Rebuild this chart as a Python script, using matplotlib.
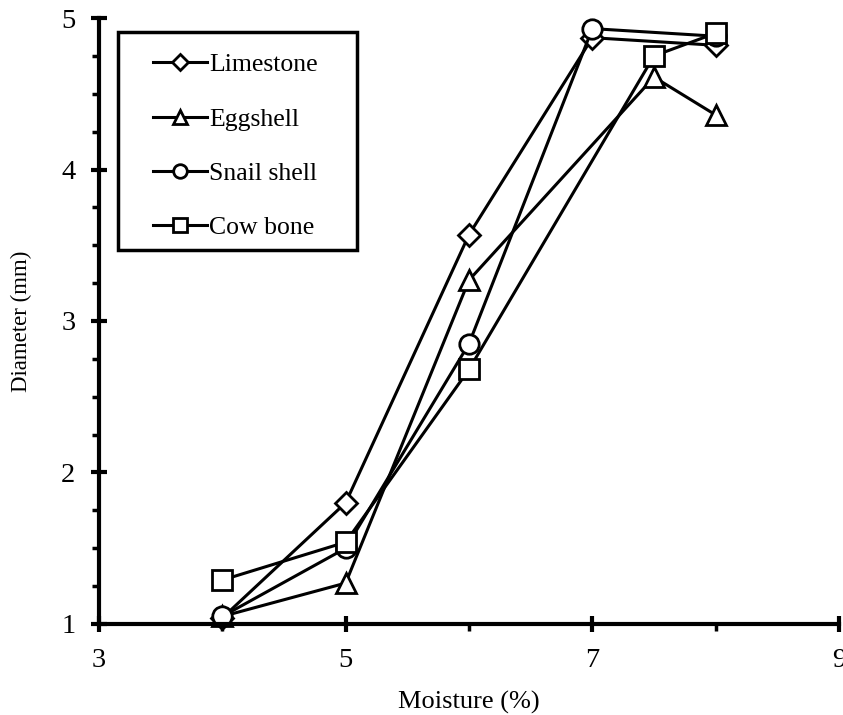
import matplotlib
matplotlib.use("Agg")
import matplotlib.pyplot as plt
from matplotlib.patches import Rectangle
from matplotlib.ticker import FixedLocator, MultipleLocator

plt.rcParams['font.family'] = ['Liberation Serif', 'DejaVu Serif']

# values
limestone_x = [4, 5, 6, 7, 8]
limestone_y = [1.04, 1.80, 3.57, 4.87, 4.82]
eggshell_x = [4, 5, 6, 7.5, 8]
eggshell_y = [1.05, 1.27, 3.27, 4.61, 4.36]
snail_x = [4, 5, 6, 7, 8]
snail_y = [1.05, 1.50, 2.85, 4.93, 4.88]
cowbone_x = [4, 5, 6, 7.5, 8]
cowbone_y = [1.29, 1.54, 2.68, 4.75, 4.90]

x_major = [3, 5, 7, 9]
x_minor = [4, 6, 8]

series = [
    ("Limestone", limestone_x, limestone_y, "D", 11),
    ("Eggshell", eggshell_x, eggshell_y, "^", 15),
    ("Snail shell", snail_x, snail_y, "o", 14),
    ("Cow bone", cowbone_x, cowbone_y, "s", 14),
]

fig = plt.figure(figsize=(8.43, 7.15), dpi=100)
ax = fig.add_axes([0.1174, 0.1273, 0.8779, 0.8475])

for name, xs, ys, mk, ms in series:
    ax.plot(xs, ys, color="black", lw=2.2, marker=mk, ms=ms,
            mfc="white", mec="black", mew=2.0, label=name, clip_on=False)

ax.set_xlim(3, 9)
ax.set_ylim(1, 5)
ax.xaxis.set_major_locator(FixedLocator(x_major))
ax.xaxis.set_minor_locator(FixedLocator(x_minor))
ax.yaxis.set_major_locator(MultipleLocator(1))
ax.yaxis.set_minor_locator(MultipleLocator(0.25))

for s in ["top", "right"]:
    ax.spines[s].set_visible(False)
for s in ["left", "bottom"]:
    ax.spines[s].set_linewidth(3)

ax.tick_params(which="major", direction="inout", length=12, width=3, labelsize=20.5, pad=11)
ax.tick_params(which="minor", direction="out", length=5, width=2.5)

ax.set_xlabel("Moisture (%)", fontsize=19, labelpad=13)
ax.set_ylabel("Diameter (mm)", fontsize=16.5, labelpad=21)

leg = ax.legend(loc="upper left", bbox_to_anchor=(0.038, 0.984), fontsize=18.5,
                frameon=False, handlelength=2.1, handletextpad=0.1,
                labelspacing=1.22, borderpad=1.0, borderaxespad=0)
for h in leg.legend_handles:
    h.set_markersize(h.get_markersize() * 0.7)

# legend box drawn separately (tighter at top/bottom than at the sides)
ax.add_patch(Rectangle((0.0257, 0.617), 0.323, 0.36, transform=ax.transAxes,
                       fill=False, edgecolor="black", lw=2.5, zorder=5))

fig.savefig("out.png", dpi=100)
